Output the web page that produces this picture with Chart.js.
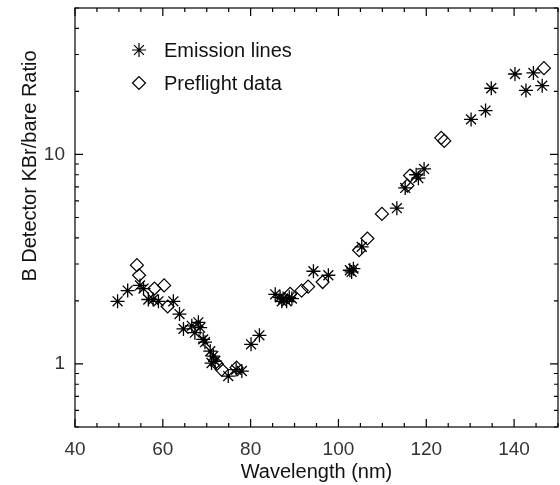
<!DOCTYPE html>
<html>
<head>
<meta charset="utf-8">
<script src="https://cdn.jsdelivr.net/npm/chart.js@4/dist/chart.umd.min.js"></script>
<style>
  html, body { margin: 0; padding: 0; background: #fff; }
  #wrap { width: 560px; height: 485px; }
</style>
</head>
<body>
<div id="wrap"><canvas id="chart"></canvas></div>
<script>
// values
const emissionX = [49.7, 52.0, 54.8, 55.6, 56.7, 57.8, 59.0, 62.4, 63.8, 64.7, 66.6, 67.3, 68.1, 68.5, 69.2, 69.6, 70.8, 71.1, 71.5, 71.9, 74.9, 76.7, 78.0, 80.1, 82.0, 85.6, 86.7, 87.1, 87.4, 88.2, 88.8, 89.4, 94.3, 97.7, 102.6, 103.0, 103.4, 105.3, 113.3, 115.2, 117.7, 118.2, 119.5, 130.2, 133.5, 134.8, 140.2, 142.7, 144.4, 146.4]
const emissionY = [1.99, 2.24, 2.37, 2.29, 2.03, 2.03, 1.99, 1.99, 1.73, 1.47, 1.52, 1.41, 1.58, 1.49, 1.31, 1.27, 1.15, 1.01, 1.09, 1.03, 0.875, 0.94, 0.925, 1.24, 1.37, 2.15, 2.08, 1.99, 2.05, 1.99, 2.08, 2.05, 2.77, 2.65, 2.80, 2.75, 2.85, 3.62, 5.54, 6.92, 8.0, 7.7, 8.53, 14.7, 16.2, 20.7, 24.2, 20.2, 24.5, 21.3]
const preflightX = [54.1, 54.6, 58.1, 60.3, 61.1, 72.3, 73.4, 76.8, 89.0, 91.6, 93.1, 96.4, 104.7, 106.6, 109.9, 115.7, 116.3, 123.4, 124.1, 146.8]
const preflightY = [2.96, 2.65, 2.29, 2.37, 1.88, 1.0, 0.94, 0.96, 2.16, 2.24, 2.34, 2.46, 3.49, 3.97, 5.2, 7.1, 7.93, 12.0, 11.6, 25.8]
const yTickValues = [0.5, 0.6, 0.7, 0.8, 0.9, 1, 2, 3, 4, 5, 6, 7, 8, 9, 10, 20, 30, 40, 50]
const yTickLabels = [1, 10]
const xMajorStep = 20

const FONT = "'Liberation Sans', Arial, sans-serif"

function toPoints(xs, ys) {
  return xs.map((x, i) => ({x: x, y: ys[i]}))
}

// frame with inward ticks on all four sides, plus legend and y title
const framePlugin = {
  id: 'frame',
  afterDraw(chart) {
    const {ctx, chartArea: a, scales: {x, y}} = chart
    ctx.save()
    ctx.strokeStyle = '#000'
    ctx.lineWidth = 1.2
    ctx.strokeRect(a.left, a.top, a.right - a.left, a.bottom - a.top)
    ctx.beginPath()
    x.ticks.forEach(t => {
      const px = x.getPixelForValue(t.value)
      const len = t.value % xMajorStep === 0 ? 8 : 4
      ctx.moveTo(px, a.bottom); ctx.lineTo(px, a.bottom - len)
      ctx.moveTo(px, a.top); ctx.lineTo(px, a.top + len)
    })
    y.ticks.forEach(t => {
      const py = y.getPixelForValue(t.value)
      const len = yTickLabels.includes(t.value) ? 8 : 4
      ctx.moveTo(a.left, py); ctx.lineTo(a.left + len, py)
      ctx.moveTo(a.right, py); ctx.lineTo(a.right - len, py)
    })
    ctx.stroke()

    // y axis title
    ctx.fillStyle = '#111'
    ctx.font = '20px ' + FONT
    ctx.textAlign = 'center'
    ctx.textBaseline = 'middle'
    ctx.translate(30, 166)
    ctx.rotate(-Math.PI / 2)
    ctx.fillText('B Detector KBr/bare Ratio', 0, 0)
    ctx.setTransform(1, 0, 0, 1, 0, 0)

    // legend
    chart.data.datasets.forEach((ds, i) => {
      const ly = 50 + i * 33
      ctx.strokeStyle = '#000'
      ctx.fillStyle = 'rgba(0,0,0,0)'
      ctx.lineWidth = 1.2
      Chart.helpers.drawPoint(ctx, {pointStyle: ds.pointStyle, radius: ds.pointRadius, rotation: 0, borderWidth: 1.2}, 139, ly)
      ctx.fillStyle = '#111'
      ctx.font = '20px ' + FONT
      ctx.textAlign = 'left'
      ctx.textBaseline = 'middle'
      ctx.fillText(ds.label, 164, ly + 1)
    })
    ctx.restore()
  }
}

new Chart(document.getElementById('chart'), {
  type: 'scatter',
  data: {
    datasets: [{
      label: 'Emission lines',
      data: toPoints(emissionX, emissionY),
      pointStyle: 'star',
      pointRadius: 7,
      borderColor: '#000',
      backgroundColor: '#000',
      borderWidth: 1.3
    }, {
      label: 'Preflight data',
      data: toPoints(preflightX, preflightY),
      pointStyle: 'rectRot',
      pointRadius: 6.5,
      borderColor: '#000',
      backgroundColor: 'rgba(0,0,0,0)',
      borderWidth: 1.2
    }]
  },
  options: {
    responsive: true,
    maintainAspectRatio: false,
    animation: false,
    layout: {autoPadding: false, padding: {top: 8, right: 2, left: 0, bottom: 0}},
    plugins: {
      legend: {display: false},
      tooltip: {enabled: false}
    },
    scales: {
      x: {
        type: 'linear',
        min: 40,
        max: 150,
        grid: {display: false, drawTicks: false},
        border: {display: false},
        ticks: {
          stepSize: 5,
          autoSkip: false,
          maxRotation: 0,
          padding: 11,
          color: '#333',
          font: {family: FONT, size: 19},
          callback: v => (v % xMajorStep === 0 && v < 150) ? String(v) : ''
        },
        title: {
          display: true,
          text: 'Wavelength (nm)',
          color: '#111',
          font: {family: FONT, size: 20},
          padding: {top: 0, bottom: 1}
        },
        afterFit: s => { s.height = 58; s.paddingLeft = 0; s.paddingRight = 0 }
      },
      y: {
        type: 'logarithmic',
        min: 0.5,
        max: 50,
        grid: {display: false, drawTicks: false},
        border: {display: false},
        afterBuildTicks: s => { s.ticks = yTickValues.map(v => ({value: v})) },
        ticks: {
          autoSkip: false,
          padding: 10,
          color: '#333',
          font: {family: FONT, size: 19},
          callback: v => yTickLabels.includes(v) ? String(v) : ''
        },
        afterFit: s => { s.width = 75; s.paddingTop = 0; s.paddingBottom = 0 }
      }
    }
  },
  plugins: [framePlugin]
})
</script>
</body>
</html>
